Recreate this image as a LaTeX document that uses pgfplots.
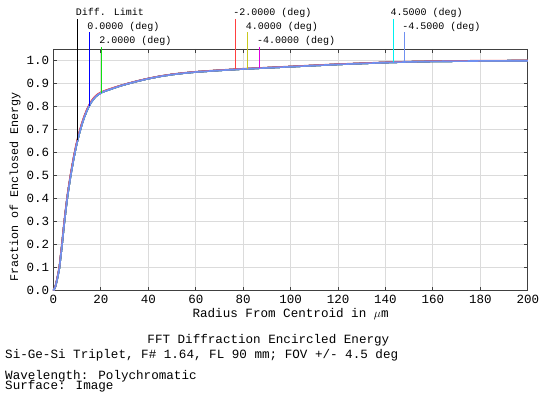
\documentclass[border=0pt]{standalone}
\usepackage{pgfplots}
\pgfplotsset{compat=1.18}
\usepackage{pgfplotstable}
\usepackage{fontspec}
\setmainfont{Liberation Mono}
\definecolor{cdl}{HTML}{000000}
\definecolor{cz}{HTML}{0000FF}
\definecolor{ctwo}{HTML}{10E010}
\definecolor{cmtwo}{HTML}{FF4040}
\definecolor{cfour}{HTML}{C8C820}
\definecolor{cmfour}{HTML}{E000E0}
\definecolor{cfh}{HTML}{00F0F0}
\definecolor{cmfh}{HTML}{7090F0}
\pgfplotstableread{
r v
0 0
0.8 0.017
1.5 0.047
2.0 0.072
2.5 0.10
3.0 0.145
3.5 0.19
4.0 0.24
4.5 0.29
5.0 0.335
5.5 0.378
6.0 0.417
6.5 0.452
7.0 0.485
7.5 0.516
8.0 0.545
8.5 0.574
9.0 0.60
9.5 0.625
10 0.647
10.5 0.668
11 0.688
12 0.724
13 0.755
14 0.781
15 0.803
16 0.821
17 0.835
18 0.846
19 0.854
20 0.860
21 0.865
22 0.869
24 0.876
26 0.883
28 0.890
31 0.899
35 0.910
40 0.922
45 0.932
50 0.940
55 0.946
60 0.951
70 0.958
80 0.964
90 0.969
100 0.974
110 0.979
120 0.984
130 0.988
140 0.992
150 0.995
160 0.997
170 0.998
180 0.999
200 1.000
}\main
\pgfplotstableread{
r v
0 0
0.8 0.019
1.5 0.051
2.0 0.077
2.5 0.106
3.0 0.152
3.5 0.198
4.0 0.248
4.5 0.298
5.0 0.343
5.5 0.386
6.0 0.425
6.5 0.460
7.0 0.493
7.5 0.524
8.0 0.553
8.5 0.582
9.0 0.607
9.5 0.632
10 0.654
10.5 0.675
11 0.694
12 0.730
13 0.760
14 0.786
15 0.807
16 0.825
17 0.839
18 0.849
19 0.857
20 0.863
21 0.867
22 0.871
24 0.878
26 0.885
28 0.891
31 0.900
35 0.911
40 0.923
45 0.933
50 0.941
55 0.947
60 0.952
70 0.959
80 0.965
90 0.970
100 0.975
110 0.980
120 0.985
130 0.989
140 0.993
150 0.996
160 0.998
170 0.999
180 1.000
200 1.001
}\red
\begin{document}
\begin{tikzpicture}
\begin{axis}[
  at={(0,0)}, anchor=south west,
  scale only axis, width=474.5pt, height=241.7pt,
  xmin=0, xmax=200, ymin=0, ymax=1.051,
  xtick={0,20,...,200}, ytick={0,0.1,...,1.0},
  yticklabel style={/pgf/number format/fixed, /pgf/number format/fixed zerofill, /pgf/number format/precision=1, anchor=east, inner sep=0pt, xshift=-4.2pt, font=\fontsize{12.5}{14}\selectfont},
  /pgf/number format/assume math mode=true,
  xticklabel style={anchor=base, inner sep=0pt, yshift=-12.6pt, font=\fontsize{12.5}{14}\selectfont},
  grid=major, major grid style={black!14, line width=0.9pt},
  tick align=inside, major tick length=4pt,
  tick style={black!75, line width=0.9pt},
  xtick pos=both, ytick pos=both,
  axis line style={black!75, line width=0.9pt},
  clip=false,
]
\addplot[color=cdl, line width=1.6pt] table {\main};
\addplot[color=cz, line width=1.6pt] table {\main};
\addplot[color=ctwo, line width=1.6pt] table {\main};
\addplot[color=cfour, line width=1.6pt] table {\main};
\addplot[color=cmfour, line width=1.6pt] table {\main};
\addplot[color=cfh, line width=1.6pt] table {\main};
\addplot[color=cmtwo, line width=1.6pt] table {\red};
\addplot[color=cmfh, line width=1.6pt] table {\main};
% marker lines
\addplot[color=cdl, line width=1pt] coordinates {(10.2,0.655) (10.2,1.181)};
\addplot[color=cz, line width=1pt] coordinates {(15.1,0.805) (15.1,1.1235)};
\addplot[color=ctwo, line width=1pt] coordinates {(20.1,0.86) (20.1,1.061)};
\addplot[color=cmtwo, line width=1pt] coordinates {(76.7,0.963) (76.7,1.181)};
\addplot[color=cfour, line width=1pt] coordinates {(81.8,0.965) (81.8,1.1235)};
\addplot[color=cmfour, line width=1pt] coordinates {(86.7,0.967) (86.7,1.061)};
\addplot[color=cfh, line width=1pt] coordinates {(143.3,0.993) (143.3,1.181)};
\addplot[color=cmfh, line width=1pt] coordinates {(148.1,0.994) (148.1,1.1235)};
\end{axis}
\path[use as bounding box] (-53.5pt,-106.3pt) rectangle (485.5pt,290.7pt);
\begin{scope}[every node/.style={inner sep=0pt, anchor=base west, font=\fontsize{10}{12}\selectfont}]
\node at (22.2pt,275pt) {Diff. Limit};
\node at (33.8pt,261.4pt) {0.0000 (deg)};
\node at (45.8pt,247.4pt) {2.0000 (deg)};
\node at (179.8pt,275pt) {-2.0000 (deg)};
\node at (192.2pt,261.4pt) {4.0000 (deg)};
\node at (203.5pt,247.4pt) {-4.0000 (deg)};
\node at (337.2pt,275pt) {4.5000 (deg)};
\node at (348.8pt,261.4pt) {-4.5000 (deg)};
\end{scope}
\begin{scope}[every node/.style={inner sep=0pt, font=\fontsize{12.6}{14}\selectfont}]
\node[anchor=base] at (237.2pt,-27pt) {Radius From Centroid in $\mu$m};
\node[anchor=center, rotate=90, font=\fontsize{11.7}{14}\selectfont] at (-38.5pt,103.7pt) {Fraction of Enclosed Energy};
\node[anchor=base] at (215pt,-53.3pt) {FFT Diffraction Encircled Energy};
\node[anchor=base west] at (-48.5pt,-68pt) {Si-Ge-Si Triplet, F\# 1.64, FL 90 mm; FOV +/- 4.5 deg};
\node[anchor=base west] at (-48.5pt,-88.6pt) {Wavelength: Polychromatic};
\node[anchor=base west] at (-48.5pt,-99.1pt) {Surface: Image};
\end{scope}
\end{tikzpicture}
\end{document}
